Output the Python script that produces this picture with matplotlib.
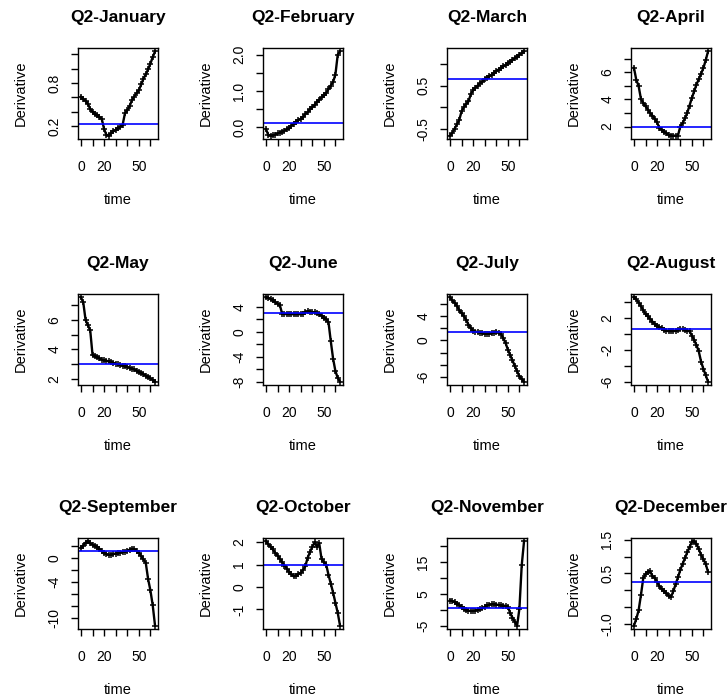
import matplotlib
matplotlib.use("Agg")
import matplotlib.pyplot as plt

plt.rcParams['font.family'] = ['Liberation Sans', 'DejaVu Sans']

months = ["January", "February", "March", "April", "May", "June",
          "July", "August", "September", "October", "November", "December"]

time = list(range(0, 65, 2))

jan = [0.61, 0.58, 0.55, 0.51, 0.44, 0.40, 0.37, 0.35, 0.33, 0.30, 0.16, 0.08,
       0.07, 0.10, 0.13, 0.15, 0.17, 0.19, 0.22, 0.38, 0.42, 0.48, 0.56, 0.61,
       0.66, 0.70, 0.78, 0.86, 0.92, 0.99, 1.07, 1.16, 1.24]
feb = [-0.05, -0.21, -0.23, -0.22, -0.20, -0.17, -0.15, -0.12, -0.09, -0.06, -0.03, 0.04,
       0.10, 0.15, 0.20, 0.23, 0.28, 0.36, 0.42, 0.49, 0.55, 0.62, 0.70, 0.76,
       0.82, 0.88, 0.94, 1.05, 1.15, 1.25, 1.45, 2.00, 2.09]
mar = [-0.66, -0.60, -0.50, -0.40, -0.30, -0.10, 0.00, 0.07, 0.13, 0.30, 0.39, 0.45,
       0.50, 0.55, 0.59, 0.64, 0.68, 0.71, 0.75, 0.78, 0.83, 0.87, 0.90, 0.94,
       0.97, 1.01, 1.05, 1.09, 1.13, 1.17, 1.21, 1.25, 1.29]
apr = [6.33, 5.45, 5.00, 4.05, 3.75, 3.50, 3.25, 3.00, 2.80, 2.55, 2.30, 1.90,
       1.75, 1.62, 1.50, 1.38, 1.33, 1.33, 1.33, 1.33, 2.00, 2.25, 2.60, 3.00,
       3.55, 4.10, 4.60, 5.10, 5.50, 5.90, 6.33, 6.90, 7.55]
may = [7.55, 7.20, 6.00, 5.65, 5.30, 3.62, 3.52, 3.45, 3.38, 3.30, 3.26, 3.22,
       3.18, 3.12, 3.07, 3.02, 2.98, 2.93, 2.88, 2.84, 2.80, 2.74, 2.68, 2.63,
       2.55, 2.47, 2.38, 2.30, 2.21, 2.12, 2.02, 1.92, 1.80]
jun = [5.55, 5.45, 5.30, 5.05, 4.80, 4.55, 4.30, 2.90, 2.88, 2.86, 2.85, 2.85,
       2.85, 2.85, 2.85, 2.85, 2.87, 3.25, 3.28, 3.25, 3.20, 3.12, 3.00, 2.80,
       2.60, 2.30, 2.00, 1.60, -1.50, -4.30, -6.30, -7.40, -8.00]
jul = [7.10, 6.60, 6.20, 5.70, 5.00, 4.50, 4.00, 3.40, 2.60, 2.00, 1.60, 1.45,
       1.40, 1.30, 1.15, 1.10, 1.10, 1.12, 1.15, 1.30, 1.45, 1.30, 1.10, 0.40,
       -0.40, -1.50, -2.40, -3.30, -4.20, -5.10, -5.90, -6.40, -6.80]
aug = [4.60, 4.35, 3.95, 3.50, 3.00, 2.50, 2.20, 1.90, 1.55, 1.20, 1.00, 0.85,
       0.70, 0.55, 0.40, 0.35, 0.35, 0.35, 0.40, 0.55, 0.65, 0.60, 0.50, 0.40,
       0.35, -0.20, -0.75, -1.40, -2.20, -3.50, -4.40, -5.20, -6.00]
sep = [1.70, 2.10, 2.60, 2.80, 2.50, 2.25, 2.05, 1.85, 1.55, 1.20, 0.90, 0.65,
       0.55, 0.60, 0.70, 0.75, 0.80, 0.90, 1.00, 1.10, 1.25, 1.40, 1.55, 1.55,
       1.25, 0.90, 0.40, -0.20, -0.80, -3.50, -5.40, -7.90, -11.30]
oct_ = [2.03, 1.90, 1.80, 1.67, 1.52, 1.40, 1.25, 1.10, 0.95, 0.82, 0.68, 0.56,
        0.47, 0.50, 0.57, 0.63, 0.75, 0.92, 1.30, 1.55, 1.78, 1.98, 1.80, 1.95,
        1.25, 1.10, 1.00, 0.55, 0.15, -0.25, -0.70, -1.15, -1.72]
nov = [2.90, 2.75, 2.40, 1.95, 1.40, 0.90, 0.30, -0.10, -0.30, -0.40, -0.40, -0.30,
       0.00, 0.20, 0.40, 0.80, 1.40, 1.60, 1.70, 1.80, 1.60, 1.50, 1.40, 1.30,
       1.20, 1.00, -1.00, -2.50, -3.80, -5.00, 0.30, 14.00, 21.50]
dec = [-1.05, -0.85, -0.60, -0.15, 0.35, 0.48, 0.55, 0.56, 0.42, 0.36, 0.25, 0.12,
       0.03, -0.03, -0.09, -0.16, -0.20, -0.03, 0.18, 0.38, 0.60, 0.78, 0.95, 1.12,
       1.28, 1.43, 1.45, 1.38, 1.22, 1.05, 0.92, 0.78, 0.54]

series = [jan, feb, mar, apr, may, jun, jul, aug, sep, oct_, nov, dec]

hlines = [0.23, 0.12, 0.64, 2.0, 3.02, 3.0, 1.40, 0.56, 1.12, 1.0, 0.53, 0.24]

yticks = [
    [0.2, 0.4, 0.6, 0.8, 1.0, 1.2],
    [0.0, 0.5, 1.0, 1.5, 2.0],
    [-0.5, 0.0, 0.5, 1.0],
    [2, 3, 4, 5, 6, 7],
    [2, 3, 4, 5, 6, 7],
    [-8, -6, -4, -2, 0, 2, 4],
    [-6, -4, -2, 0, 2, 4, 6],
    [-6, -4, -2, 0, 2, 4],
    [-10, -8, -6, -4, -2, 0, 2],
    [-1, 0, 1, 2],
    [-5, 0, 5, 10, 15, 20],
    [-1.0, -0.5, 0.0, 0.5, 1.0, 1.5],
]
ylabels = [
    ["0.2", "", "", "0.8", "", ""],
    ["0.0", "", "1.0", "", "2.0"],
    ["-0.5", "", "0.5", ""],
    ["2", "", "4", "", "6", ""],
    ["2", "", "4", "", "6", ""],
    ["-8", "", "-4", "", "0", "", "4"],
    ["-6", "", "", "0", "", "4", ""],
    ["-6", "", "-2", "", "2", ""],
    ["-10", "", "", "-4", "", "0", ""],
    ["-1", "0", "1", "2"],
    ["-5", "", "5", "", "15", ""],
    ["-1.0", "", "", "0.5", "", "1.5"],
]
xticks = [0, 10, 20, 30, 40, 50, 60]
xlabels = ["0", "", "20", "", "", "50", ""]

W, H = 727, 700
col_left = [78, 263, 447, 631]
row_top = [48, 294, 538]
box_w, box_h = 80, 91


def rlim(v):
    lo, hi = min(v), max(v)
    r = hi - lo
    return lo - 0.04 * r, hi + 0.04 * r


fig = plt.figure(figsize=(W / 100, H / 100), dpi=100)

for i, name in enumerate(months):
    r, c = divmod(i, 4)
    ax = fig.add_axes([col_left[c] / W, 1 - (row_top[r] + box_h) / H, box_w / W, box_h / H])
    ax.plot(time, series[i], color="black", lw=1.7, marker="+", ms=4.5, mew=1.1)
    ax.axhline(hlines[i], color="blue", lw=1.2)
    ax.set_xlim(rlim(time))
    ax.set_ylim(rlim(series[i]))
    ax.set_xticks(xticks, xlabels)
    ax.set_yticks(yticks[i], ylabels[i])
    ax.tick_params(axis="both", length=5, width=1, labelsize=10)
    ax.tick_params(axis="x", pad=10)
    ax.tick_params(axis="y", pad=7, labelrotation=90)
    for lab in ax.get_yticklabels():
        lab.set_va("center")
    for s in ax.spines.values():
        s.set_linewidth(1)
    ax.set_title("Q2-" + name, fontsize=12.5, fontweight="bold", pad=19)
    ax.set_xlabel("time", fontsize=10.5, labelpad=14)
    ax.set_ylabel("Derivative", fontsize=10.5, labelpad=14)

fig.savefig("out.png", dpi=100)
